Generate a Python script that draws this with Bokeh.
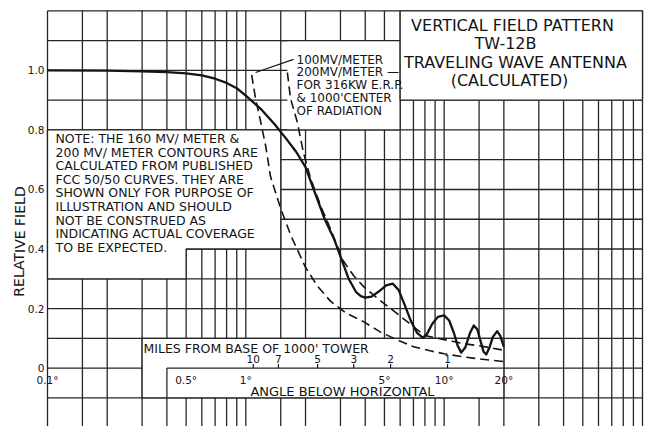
from bokeh.plotting import figure
from bokeh.models import Range1d, Label
from bokeh.embed import file_html
from bokeh.resources import INLINE

# ---------------- data ----------------
angle_solid = [0.1, 0.2, 0.3, 0.4, 0.5, 0.6, 0.7, 0.8, 0.9, 1.0, 1.2, 1.4, 1.6, 1.8,
               2.0, 2.2, 2.5, 2.8, 3.0, 3.3, 3.6, 3.8, 4.0, 4.3, 4.7, 5.1, 5.5, 5.9,
               6.3, 6.8, 7.3, 7.8, 8.2, 8.7, 9.3, 10.0, 10.6, 11.2, 11.7, 12.2, 12.8,
               13.5, 14.1, 14.7, 15.3, 15.8, 16.3, 16.9, 17.6, 18.5, 19.2, 20.0]
field_solid = [1.000, 0.999, 0.997, 0.994, 0.990, 0.983, 0.972, 0.958, 0.940, 0.915,
               0.868, 0.818, 0.770, 0.725, 0.675, 0.600, 0.500, 0.430, 0.375, 0.300,
               0.255, 0.242, 0.237, 0.240, 0.258, 0.278, 0.284, 0.262, 0.215, 0.158,
               0.118, 0.102, 0.115, 0.148, 0.172, 0.177, 0.160, 0.118, 0.075, 0.052,
               0.070, 0.118, 0.143, 0.130, 0.088, 0.055, 0.046, 0.068, 0.105, 0.124,
               0.108, 0.071]

angle_100mv = [1.07, 1.12, 1.19, 1.26, 1.33, 1.5, 1.7, 2.0, 2.3, 2.67, 3.2, 3.9, 4.8,
               5.8, 7.0, 8.5, 10.0, 12.5, 15.0, 20.0]
field_100mv = [0.985, 0.905, 0.825, 0.745, 0.645, 0.535, 0.440, 0.338, 0.275, 0.225,
               0.185, 0.157, 0.120, 0.095, 0.072, 0.058, 0.048, 0.038, 0.031, 0.022]

angle_200mv = [1.62, 1.68, 1.82, 1.95, 2.12, 2.4, 2.69, 3.08, 3.5, 3.95, 4.8, 5.8, 7.0,
               7.95, 9.5, 11.0, 12.6, 15.0, 17.5, 20.0]
field_200mv = [0.993, 0.906, 0.825, 0.725, 0.637, 0.540, 0.463, 0.363, 0.310, 0.272,
               0.225, 0.183, 0.139, 0.110, 0.099, 0.090, 0.082, 0.075, 0.067, 0.060]

miles_angles = [1.09, 1.46, 2.3, 3.5, 5.37, 10.4]
miles_labels = ["10", "7", "5", "3", "2", "1"]

angle_ticks = [0.1, 0.5, 1, 5, 10, 20]
angle_labels = ["0.1°", "0.5°", "1°", "5°", "10°", "20°"]

field_ticks = [0, 0.2, 0.4, 0.6, 0.8, 1.0]
field_labels = ["0", "0.2", "0.4", "0.6", "0.8", "1.0"]

x_grid = [0.1, 0.15, 0.2, 0.3, 0.4, 0.5, 0.6, 0.7, 0.8, 0.9,
          1, 1.5, 2, 3, 4, 5, 6, 7, 8, 9,
          10, 15, 20, 30, 40, 50, 60, 70, 80, 90, 100]
y_grid = [-0.1, 0.0, 0.1, 0.2, 0.3, 0.4, 0.5, 0.6, 0.7, 0.8, 0.9, 1.0, 1.1, 1.2]

title_lines = ["VERTICAL FIELD PATTERN", "TW-12B", "TRAVELING WAVE ANTENNA", "(CALCULATED)"]
note_lines = ["NOTE: THE 160 MV/ METER &", "200 MV/ METER CONTOURS ARE",
              "CALCULATED FROM PUBLISHED", "FCC 50/50 CURVES. THEY ARE",
              "SHOWN ONLY FOR PURPOSE OF", "ILLUSTRATION AND SHOULD",
              "NOT BE CONSTRUED AS", "INDICATING ACTUAL COVERAGE",
              "TO BE EXPECTED."]
contour_lines = ["100MV/METER", "200MV/METER —", "FOR 316KW E.R.P.",
                 "& 1000'CENTER", "OF RADIATION"]
leader_angle = [1.12, 1.74]
leader_field = [0.993, 1.037]

# ---------------- layout helpers (page pixel -> data) ----------------
W, H = 657, 426
X0, DEC = 47.0, 198.33
Y0, YS = 367.6, 297.7


def X(px):
    return 10 ** ((px - X0) / DEC - 1)


def Y(py):
    return (Y0 - py) / YS


INK = "#141414"
GRID = "#262626"
FONT = "DejaVu Sans"
GW = 1.3
YBOT = Y(H)

p = figure(width=W, height=H, x_axis_type="log",
           x_range=Range1d(X(0), X(W)), y_range=Range1d(Y(H), Y(0)),
           x_axis_location=None, y_axis_location=None,
           min_border=0, min_border_left=0, min_border_right=0,
           min_border_top=0, min_border_bottom=0,
           output_backend="svg", toolbar_location=None,
           background_fill_color="white", border_fill_color="white",
           outline_line_color=None)
p.xgrid.visible = False
p.ygrid.visible = False

# graph-paper grid
p.segment(x0=x_grid, y0=[YBOT] * len(x_grid), x1=x_grid, y1=[1.2] * len(x_grid),
          line_color=GRID, line_width=GW)
p.segment(x0=[0.1] * len(y_grid), y0=y_grid, x1=[100] * len(y_grid), y1=y_grid,
          line_color=GRID, line_width=GW)

# white label areas (gridlines removed)
p.patch([0.1, 1.5, 1.5, 0.5, 0.5, 0.1], [0.8, 0.8, 0.4, 0.4, 0.3, 0.3],
        fill_color="white", line_color=GRID, line_width=GW)
p.quad(left=[1.62], right=[6], bottom=[0.8], top=[1.1],
       fill_color="white", line_color=None)
p.multi_line([[1.5, 6], [1.5, 6], [6, 6]], [[1.1, 1.1], [0.8, 0.8], [0.8, 1.1]],
             line_color=GRID, line_width=GW)
p.quad(left=[6], right=[100], bottom=[0.9], top=[1.2],
       fill_color="white", line_color=GRID, line_width=GW)
p.quad(left=[0.3], right=[20], bottom=[-0.1], top=[0.1],
       fill_color="white", line_color=GRID, line_width=GW)
p.multi_line([[0.4, 20], [0.4, 0.4]], [[0, 0], [-0.1, 0]],
             line_color=GRID, line_width=GW)

# miles scale ticks
p.segment(x0=miles_angles, y0=[0] * len(miles_angles),
          x1=miles_angles, y1=[Y(363.5)] * len(miles_angles),
          line_color=INK, line_width=1.2)

# curves
p.line(angle_100mv, field_100mv, line_color=INK, line_width=1.6, line_dash="9 5")
p.line(angle_200mv, field_200mv, line_color=INK, line_width=1.6, line_dash="9 5")
p.line(angle_solid, field_solid, line_color=INK, line_width=2.3, line_join="round")
p.line(leader_angle, leader_field, line_color=INK, line_width=1.1)


def lab(x, y, text, size, align="left", angle=0.0):
    p.add_layout(Label(x=x, y=y, text=text, text_font=FONT,
                       text_font_size=f"{size}px", text_align=align,
                       text_baseline="middle", text_color=INK, angle=angle,
                       background_fill_color=None))


# title
for t, cx, cy in zip(title_lines, [512, 505, 515, 509], [25, 43, 62, 80]):
    lab(X(cx), Y(cy), t, 16, "center")

# note
for i, t in enumerate(note_lines):
    lab(X(55), Y(138 + i * 13.6), t, 12.5)

# contour annotation
for i, t in enumerate(contour_lines):
    lab(X(296), Y(59 + i * 12.8), t, 12)

# y tick labels
for v, t in zip(field_ticks, field_labels):
    lab(X(44), v, t, 10.5, "right")

# y axis title
lab(X(19), Y(241), "RELATIVE FIELD", 14, "center", angle=1.5707963)

# angle labels
for v, t in zip(angle_ticks, angle_labels):
    lab(v, Y(379), t, 10.5, "center")
lab(X(342), Y(391), "ANGLE BELOW HORIZONTAL", 13, "center")

# miles scale
lab(X(143), Y(348), "MILES FROM BASE OF 1000' TOWER", 12.5)
for v, t in zip(miles_angles, miles_labels):
    lab(v, Y(358), t, 10.5, "center")

open("out.html", "w").write(file_html(p, INLINE))
